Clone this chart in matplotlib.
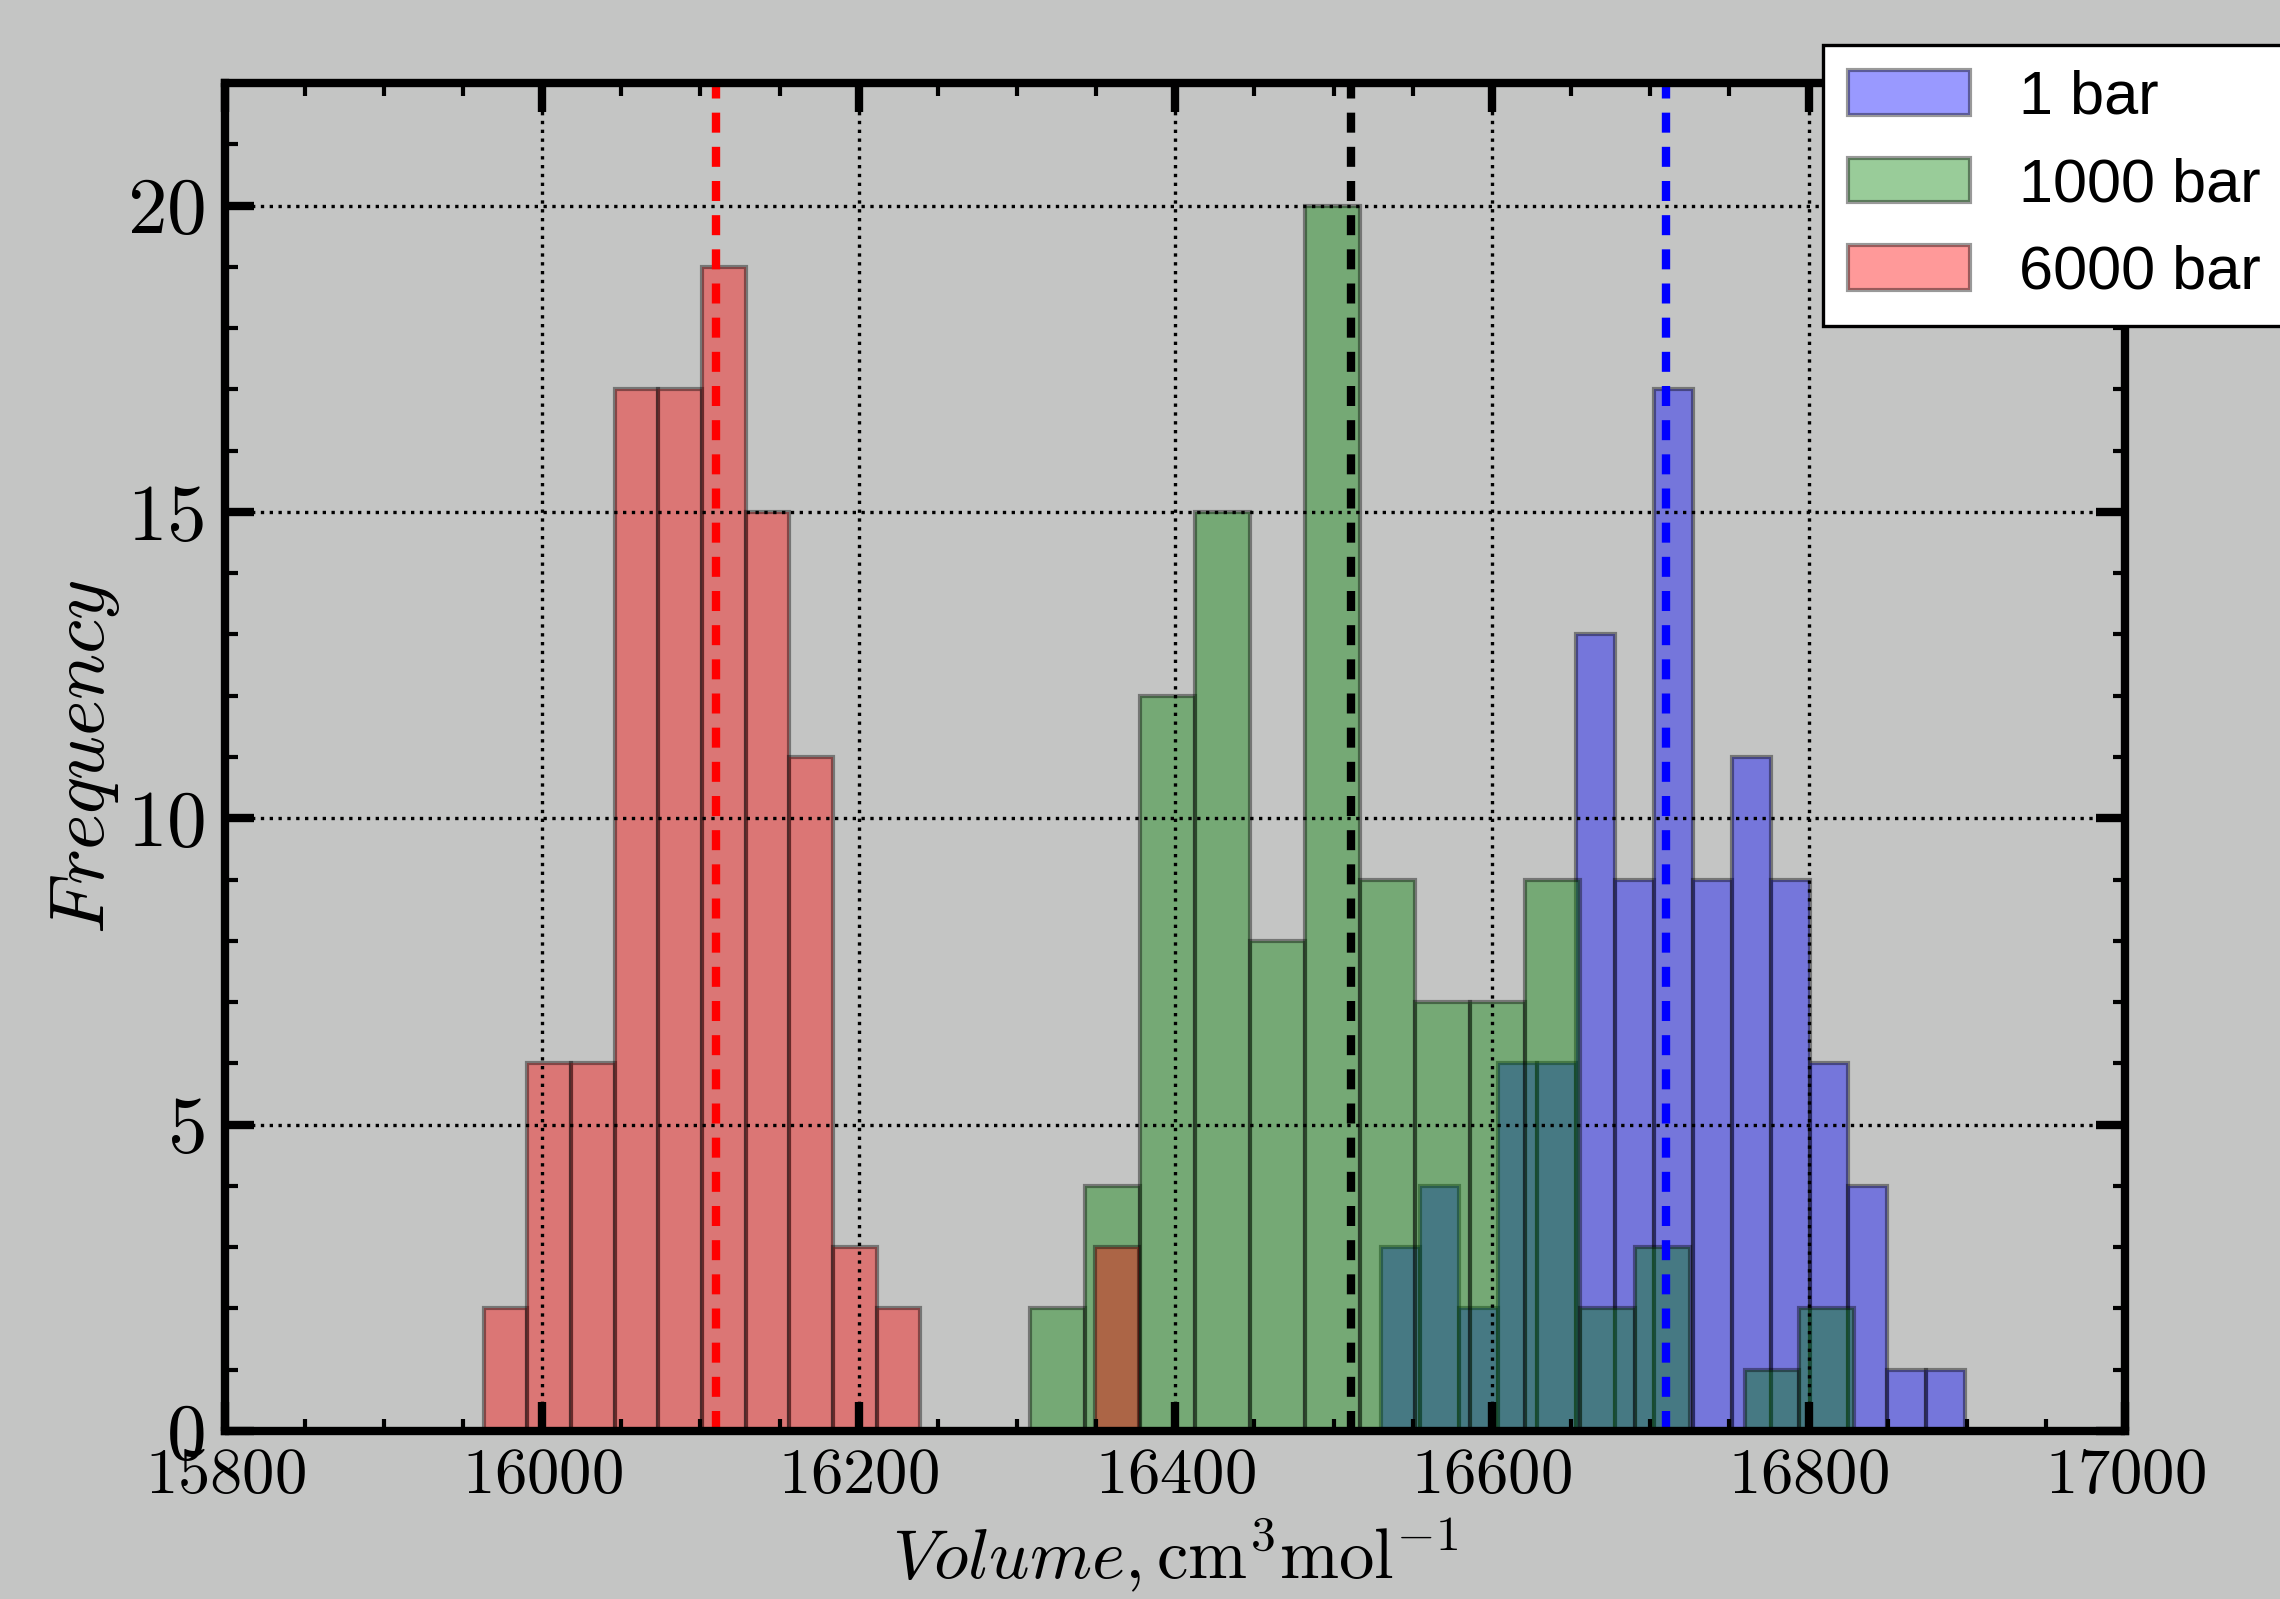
import numpy as np
import matplotlib
matplotlib.use("Agg")
import matplotlib.pyplot as plt
from matplotlib.ticker import MultipleLocator

# histogram data (15 bins per series)
labels = ["1 bar", "1000 bar", "6000 bar"]
colors = ["blue", "green", "red"]
bin_range = {"1 bar": (16530, 16899), "1000 bar": (16308, 16829), "6000 bar": (15963, 16377)}
counts_1 = [3, 4, 2, 6, 6, 13, 9, 17, 9, 11, 9, 6, 4, 1, 1]
counts_1000 = [2, 4, 12, 15, 8, 20, 9, 7, 7, 9, 2, 3, 0, 1, 2]
counts_6000 = [2, 6, 6, 17, 17, 19, 15, 11, 3, 2, 0, 0, 0, 0, 3]
means = [16710, 16511, 16110]
mean_colors = ["b", "k", "r"]

plt.rcParams['font.family'] = 'serif'
plt.rcParams['font.serif'] = ['cmr10']
plt.rcParams['mathtext.fontset'] = 'cm'
plt.rcParams['axes.formatter.use_mathtext'] = True

bg = '#c4c5c4'
fig = plt.figure(figsize=(7.6, 5.33), dpi=300, facecolor=bg)
ax = fig.add_axes([0.0989, 0.1051, 0.8332, 0.843])
ax.set_facecolor(bg)

all_counts = [counts_1, counts_1000, counts_6000]
for lab, col, cnt in zip(labels, colors, all_counts):
    lo, hi = bin_range[lab]
    edges = np.linspace(lo, hi, len(cnt) + 1)
    centers = 0.5 * (edges[:-1] + edges[1:])
    ax.hist(centers, bins=edges, weights=cnt, color=col, alpha=0.4,
            edgecolor='k', linewidth=1.0, label=lab)

for m, c in zip(means, mean_colors):
    ax.axvline(m, color=c, linestyle=(0, (2.4, 1.7)), linewidth=2)

ax.set_xlim(15800, 17000)
ax.set_ylim(0, 22)
ax.xaxis.set_major_locator(MultipleLocator(200))
ax.xaxis.set_minor_locator(MultipleLocator(50))
ax.yaxis.set_major_locator(MultipleLocator(5))
ax.yaxis.set_minor_locator(MultipleLocator(1))
ax.grid(True, which='major', linestyle=':', color='k', linewidth=0.8)
ax.set_axisbelow(False)

for s in ax.spines.values():
    s.set_linewidth(2)
ax.tick_params(which='both', direction='in', top=True, right=True)
ax.tick_params(which='major', length=7, width=2)
ax.tick_params(which='minor', length=3, width=1)
ax.tick_params(axis='x', labelsize=15.5, pad=4)
ax.tick_params(axis='y', labelsize=19, pad=5)

ax.set_xlabel(r'$Volume, \mathrm{cm^3 mol^{-1}}$', fontsize=17, labelpad=2.5)
ax.set_ylabel(r'$Frequency$', fontsize=18.5, labelpad=1)

leg = ax.legend(loc='upper left', bbox_to_anchor=(0.841, 1.028), borderaxespad=0,
                prop={'family': 'Liberation Sans', 'size': 14.7}, fancybox=False,
                framealpha=1, edgecolor='k', handlelength=2.0, handleheight=0.75,
                borderpad=0.4, labelspacing=0.5, handletextpad=0.8)
leg.get_frame().set_linewidth(0.8)

fig.savefig("out.png", dpi=300, facecolor=bg)
